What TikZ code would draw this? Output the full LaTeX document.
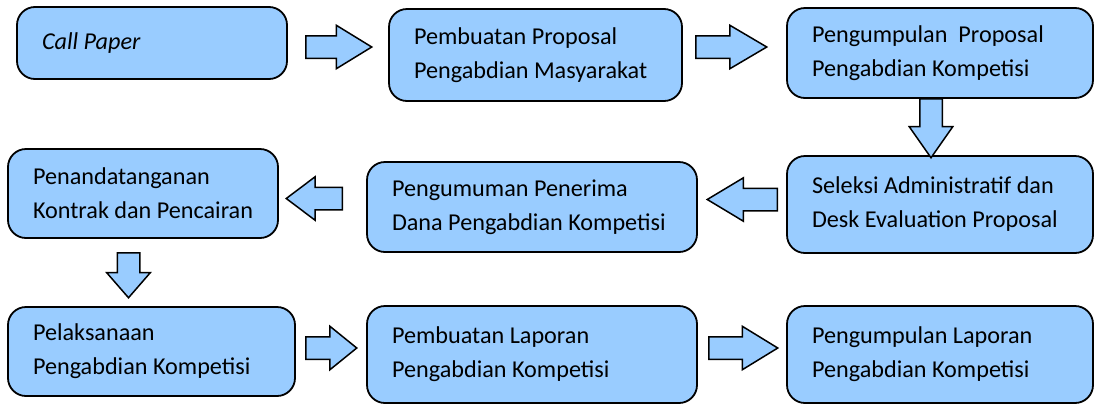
\documentclass[tikz,border=0pt]{standalone}
\usepackage{fontspec}
\setmainfont{Carlito}
\usetikzlibrary{shapes.arrows, positioning}
\definecolor{stepblue}{HTML}{99CCFF}

\begin{document}
\begin{tikzpicture}[
  x=1pt, y=-1pt,
  stage/.style={rectangle, rounded corners=18pt, draw=black, fill=stepblue, line width=1.8pt,
    align=flush left, inner xsep=25pt, inner ysep=0pt, font=\fontsize{24.2}{34}\selectfont},
  flow/.style={single arrow, draw=black, fill=stepblue, line width=1.5pt, anchor=tail,
    inner sep=10.5pt, single arrow head extend=10.5pt, minimum width=42pt}
]
\useasboundingbox (0,0) rectangle (1094,405);

% Stages
\node[stage, text width=220pt, minimum height=72pt] (call) at (152,43) {\itshape Call Paper};
\node[stage, text width=243pt, minimum height=92pt] (prop) at (535.5,55) {Pembuatan Proposal\\Pengabdian Masyarakat};
\node[stage, text width=256pt, minimum height=90pt] (collect) at (940,53) {Pengumpulan\ \ Proposal\\Pengabdian Kompetisi};
\node[stage, text width=256pt, minimum height=97pt] (select) at (940,204.5) {Seleksi Administratif dan\\Desk Evaluation Proposal};
\node[stage, text width=280pt, minimum height=90pt] (announce) at (532,207) {Pengumuman Penerima\\Dana Pengabdian Kompetisi};
\node[stage, text width=220pt, minimum height=89pt] (contract) at (143,193.5) {Penandatanganan\\Kontrak dan Pencairan};
\node[stage, text width=237pt, minimum height=89pt] (execute) at (151.5,351.5) {Pelaksanaan\\Pengabdian Kompetisi};
\node[stage, text width=280pt, minimum height=97pt] (report) at (532,354.5) {Pembuatan Laporan\\Pengabdian Kompetisi};
\node[stage, text width=256pt, minimum height=97pt] (submit) at (940,354.5) {Pengumpulan Laporan\\Pengabdian Kompetisi};

% Flow
\node[flow, minimum height=66pt, single arrow tip angle=63] (f1) at (305,47) {};
\node[flow, minimum height=71pt, single arrow tip angle=61] (f2) at (695,47) {};
\node[flow, minimum height=59pt, single arrow tip angle=70, shape border rotate=270] (f3) at (931,98) {};
\node[flow, minimum height=70pt, single arrow tip angle=62, shape border rotate=180] (f4) at (778,199.5) {};
\node[flow, minimum height=56pt, single arrow tip angle=74, shape border rotate=180] (f5) at (343,198.5) {};
\node[flow, minimum height=45pt, single arrow tip angle=82, shape border rotate=270] (f6) at (128.5,252) {};
\node[flow, minimum height=51pt, single arrow tip angle=78] (f7) at (305,348) {};
\node[flow, minimum height=69pt, single arrow tip angle=63] (f8) at (708,348) {};
\end{tikzpicture}
\end{document}
